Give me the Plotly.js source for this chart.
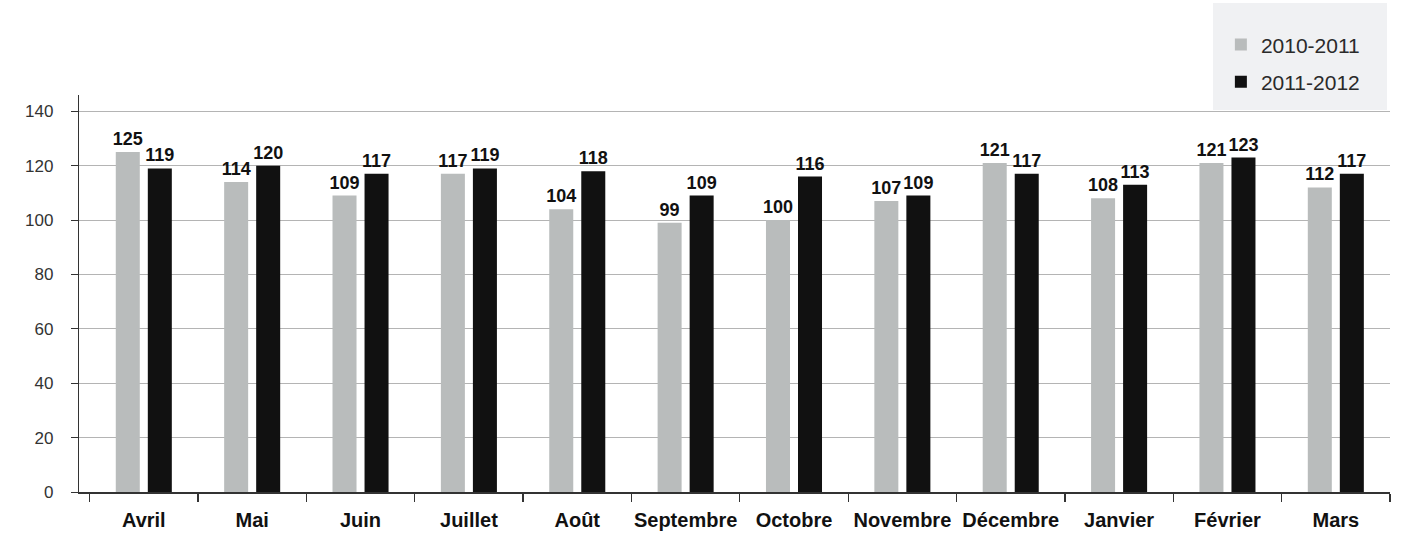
<!DOCTYPE html>
<html>
<head>
<meta charset="utf-8">
<script src="https://cdn.plot.ly/plotly-3.0.1.min.js"></script>
<style>
  html, body { margin: 0; padding: 0; background: #ffffff; }
  #chart { width: 1401px; height: 533px; }
</style>
</head>
<body>
<div id="chart"></div>
<script>
// Monthly values, fiscal years April to March
const months = ['Avril', 'Mai', 'Juin', 'Juillet', 'Août', 'Septembre', 'Octobre',
                'Novembre', 'Décembre', 'Janvier', 'Février', 'Mars'];
const seriesNames = ['2010-2011', '2011-2012'];
const values2010_2011 = [125, 114, 109, 117, 104, 99, 100, 107, 121, 108, 121, 112];
const values2011_2012 = [119, 120, 117, 119, 118, 109, 116, 109, 117, 113, 123, 117];
const yTickValues = [0, 20, 40, 60, 80, 100, 120, 140];

const labelFont = { family: 'Liberation Sans, Arial, sans-serif', size: 18, color: '#111111', weight: 'bold' };

function barTrace(name, values, color, group) {
  return {
    type: 'bar',
    name: name,
    legendgroup: group,
    x: months,
    y: values,
    marker: { color: color, line: { width: 0 } },
    text: values.map(String),
    textposition: 'outside',
    textfont: labelFont,
    constraintext: 'none',
    cliponaxis: false,
    hoverinfo: 'x+y+name'
  };
}

const data = [
  barTrace(seriesNames[0], values2010_2011, '#b9bcbc', 'a'),
  barTrace(seriesNames[1], values2011_2012, '#111111', 'b')
];

const layout = {
  width: 1401,
  height: 533,
  margin: { l: 79, r: 11, t: 95, b: 41, pad: 0 },
  paper_bgcolor: '#ffffff',
  plot_bgcolor: '#ffffff',
  barmode: 'group',
  bargap: 0.409,
  bargroupgap: 0.25,
  showlegend: true,
  legend: {
    x: 0.871, xanchor: 'left',
    y: 1.178, yanchor: 'top',
    bgcolor: 'rgba(0,0,0,0)',
    borderwidth: 0,
    traceorder: 'grouped',
    tracegroupgap: 7,
    itemwidth: 30,
    font: { family: 'Liberation Sans, Arial, sans-serif', size: 21, color: '#2a2a2a' }
  },
  shapes: [{
    type: 'rect', xref: 'paper', yref: 'paper',
    x0: (1213 - 79) / 1311, x1: (1387 - 79) / 1311,
    y0: (492 - 110) / 397, y1: (492 - 3) / 397,
    fillcolor: '#f0f1f3', line: { width: 0 }, layer: 'above'
  }],
  xaxis: {
    type: 'category',
    range: [-0.598, 11.5],
    tickson: 'boundaries',
    tickangle: 0,
    ticks: 'outside',
    ticklen: 8,
    tickwidth: 1.2,
    tickcolor: '#333333',
    ticklabelstandoff: 9,
    showline: true,
    linecolor: '#333333',
    linewidth: 1.5,
    showgrid: false,
    zeroline: false,
    tickfont: { family: 'Liberation Sans, Arial, sans-serif', size: 20, color: '#111111', weight: 'bold' },
    fixedrange: true
  },
  yaxis: {
    range: [0, 146],
    tickvals: yTickValues,
    ticktext: yTickValues.map(String),
    ticks: 'outside',
    ticklen: 7,
    tickwidth: 1,
    tickcolor: '#333333',
    ticklabelstandoff: 14,
    showline: true,
    linecolor: '#333333',
    linewidth: 1.2,
    showgrid: true,
    gridcolor: '#b4b4b4',
    gridwidth: 1,
    zeroline: false,
    tickfont: { family: 'Liberation Sans, Arial, sans-serif', size: 17, color: '#333333' },
    fixedrange: true
  }
};

Plotly.newPlot('chart', data, layout, { displayModeBar: false, staticPlot: true });
</script>
</body>
</html>
